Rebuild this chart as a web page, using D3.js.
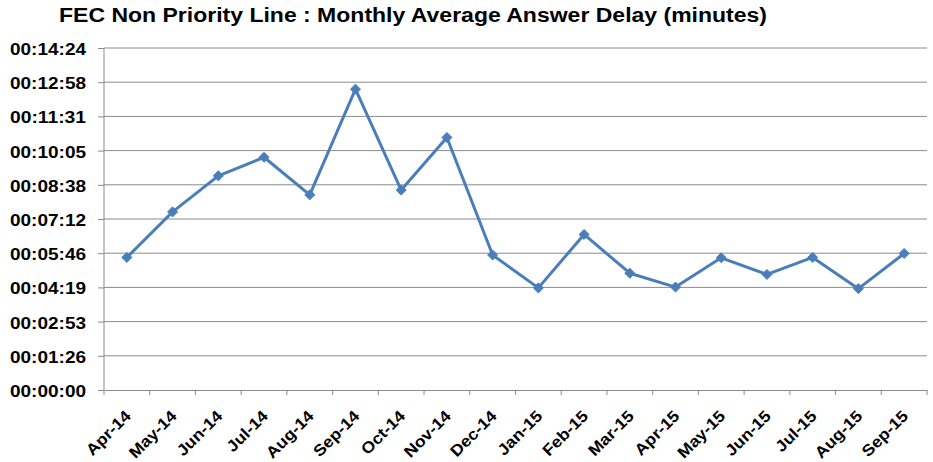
<!DOCTYPE html>
<html><head><meta charset="utf-8">
<script src="https://cdn.jsdelivr.net/npm/d3@7"></script>
<style>body{margin:0;background:#fff}svg{display:block}text{font-family:"Liberation Sans",Arial,sans-serif;font-weight:bold;fill:#000}</style>
</head><body><svg id="c" width="933" height="462"></svg>
<script>
const categories = ["Apr-14","May-14","Jun-14","Jul-14","Aug-14","Sep-14","Oct-14","Nov-14","Dec-14","Jan-15","Feb-15","Mar-15","Apr-15","May-15","Jun-15","Jul-15","Aug-15","Sep-15"];
const delaySeconds = [335,450,541,588,493,760,505,638,341,258,393,295,260,334,292,335,256,345];
const yTicks = [0,86.4,172.8,259.2,345.6,432,518.4,604.8,691.2,777.6,864];
const title = "FEC Non Priority Line : Monthly Average Answer Delay (minutes)";

const svg = d3.select("#c");
const m = {l:104, r:927, t:48, b:390};
const x = d3.scaleBand().domain(categories).range([m.l, m.r]);
const y = d3.scaleLinear().domain([0,864]).range([m.b, m.t]);
const fmt = s => { s = Math.round(s); const h=Math.floor(s/3600), mi=Math.floor(s%3600/60), se=s%60; return [h,mi,se].map(v=>String(v).padStart(2,"0")).join(":"); };
const grid = "#8a8a8a";

// gridlines
svg.append("g").selectAll("line").data(yTicks.slice(1)).join("line")
  .attr("x1", m.l).attr("x2", m.r).attr("y1", d=>y(d)).attr("y2", d=>y(d))
  .attr("stroke", grid).attr("stroke-width", 1);

// y axis
const ya = svg.append("g").attr("transform", `translate(${m.l},0)`)
  .call(d3.axisLeft(y).tickValues(yTicks).tickFormat(fmt).tickSize(6).tickPadding(12));
ya.select(".domain").attr("stroke", grid).attr("d", `M0,${m.t}V${m.b}`);
ya.selectAll(".tick line").attr("stroke", grid);
ya.selectAll("text").style("font-size","16px").attr("dy","0.4em")
  .attr("textLength", 76).attr("lengthAdjust","spacingAndGlyphs");

// x axis
const xa = svg.append("g").attr("transform", `translate(0,${m.b})`)
  .call(d3.axisBottom(x).tickSize(0).tickSizeOuter(0));
xa.select(".domain").attr("stroke", grid);
xa.selectAll(".tick line").remove();
svg.append("g").selectAll("line").data(categories.concat(["__end"])).join("line")
  .attr("x1", (d,i)=>m.l + i*x.bandwidth()).attr("x2",(d,i)=>m.l + i*x.bandwidth())
  .attr("y1", m.b).attr("y2", m.b+5).attr("stroke",grid);
xa.selectAll(".tick text").attr("text-anchor","end").attr("dy","0").attr("y",0).attr("x",0)
  .attr("transform", "translate(5,27) rotate(-45)")
  .style("font-size","16px")
  .each(function(){ const L = this.getComputedTextLength(); d3.select(this).attr("textLength", L*1.1).attr("lengthAdjust","spacingAndGlyphs"); });

// line
const pts = categories.map((c,i)=>[x(c)+x.bandwidth()/2, y(delaySeconds[i])]);
svg.append("path").attr("d", d3.line()(pts)).attr("fill","none").attr("stroke","#4a7ebb").attr("stroke-width",3).attr("stroke-linejoin","round");
svg.append("g").selectAll("path").data(pts).join("path")
  .attr("d", d3.symbol(d3.symbolDiamond2, 64)).attr("transform", d=>`translate(${d[0]},${d[1]})`)
  .attr("fill","#4a7ebb").attr("stroke","#4a7ebb").attr("stroke-width",1);

svg.append("text").attr("x", 59).attr("y", 22)
  .style("font-size","19.5px").attr("textLength", 708).attr("lengthAdjust","spacingAndGlyphs").text(title);
</script></body></html>
